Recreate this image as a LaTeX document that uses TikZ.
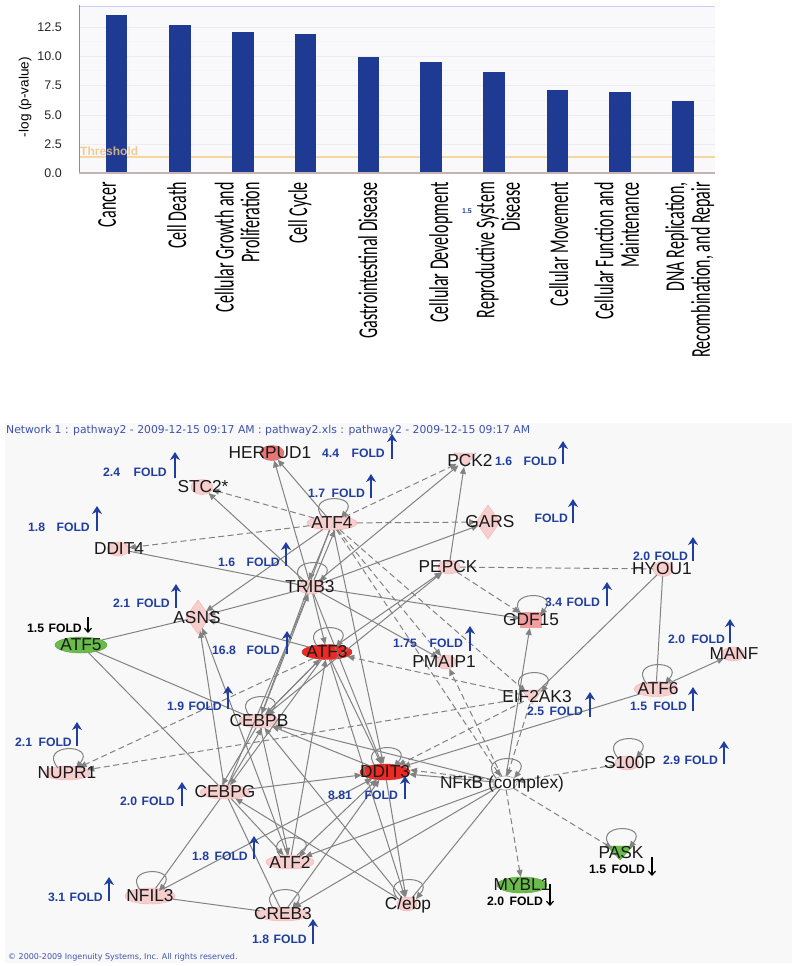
\documentclass[tikz,border=0pt]{standalone}
\usepackage{fontspec}
\usepackage{graphicx}
\setmainfont{Liberation Sans}
\newfontfamily\calfont{Carlito}
\newfontfamily\dvfont{DejaVu Sans}
\usetikzlibrary{shapes.geometric,arrows.meta}
\definecolor{barblue}{RGB}{31,58,147}
\definecolor{foldblue}{RGB}{32,62,160}
\definecolor{edgegray}{RGB}{130,130,130}
\definecolor{pinknode}{RGB}{247,206,206}
\definecolor{rednode}{RGB}{236,42,36}
\definecolor{midred}{RGB}{232,118,118}
\definecolor{gdfcol}{RGB}{242,158,158}
\definecolor{greennode}{RGB}{106,188,74}
\definecolor{panelbg}{RGB}{248,248,248}
\definecolor{chartbg}{RGB}{249,249,251}
\definecolor{titleblue}{RGB}{62,82,178}
\definecolor{gridc}{RGB}{236,236,242}
\definecolor{threshc}{RGB}{246,214,160}
\definecolor{threshtxt}{RGB}{238,196,130}
\newcommand\sloop[1]{\draw[ar] ([shift={(-9,-5)}]#1.center) .. controls ([shift={(-30,-30)}]#1.center) and ([shift={(30,-30)}]#1.center) .. ([shift={(9,-5)}]#1.center);}
\newcommand\downtri[4]{\fill[#4,draw=#4!80!black,line width=0.3pt] ([shift={(-#2,-#3)}]#1.center) -- ([shift={(#2,-#3)}]#1.center) -- ([shift={(0,#3)}]#1.center) -- cycle;}
\newcommand\foldlab[6]{\node[fold,text=#6,anchor=west] (#1n) at (#3,#5) {#2};\node[fold,text=#6,anchor=east] (#1f) at (#4,#5) {FOLD};}
\newcommand\uparr[3]{\draw[uparrow] (#1,#2) -- (#1,#3);}
\newcommand\dnarr[3]{\draw[dnarrow] (#1,#2) -- (#1,#3);}
\newcommand\catlab[3]{\node[cat] (#1) at (#2,182) {\scalebox{1}[1.7]{\calfont\fontsize{16}{13.4}\selectfont\begin{tabular}{@{}r@{}}#3\end{tabular}}};}
\begin{document}
\begin{tikzpicture}[x=1pt,y=-1pt,
  cat/.style={rotate=90, inner sep=0pt, anchor=east},
  tick/.style={font=\fontsize{12.5}{14}\selectfont, inner sep=0pt, anchor=east, text=black!85},
  nd/.style={inner sep=0pt, outer sep=0pt},
  pk/.style={nd, ellipse, fill=pinknode, draw=pinknode!85!red, line width=0.4pt},
  rd/.style={nd, ellipse, fill=rednode, draw=rednode!85!black, line width=0.4pt},
  gn/.style={nd, ellipse, fill=greennode, draw=greennode!85!black, line width=0.4pt},
  lab/.style={font=\fontsize{17.3}{19}\selectfont, inner sep=0pt, text=black!90},
  fold/.style={font=\bfseries\fontsize{12.2}{14}\selectfont, inner sep=0pt},
  ar/.style={draw=edgegray, line width=1pt, -{Triangle[length=7pt,width=6pt]}},
  pl/.style={draw=edgegray, line width=1pt},
  ds/.style={dash pattern=on 6pt off 3.5pt},
  uparrow/.style={draw=foldblue, line width=2.2pt, -{Stealth[length=8pt,width=10pt,inset=2.5pt]}},
  dnarrow/.style={draw=black, line width=1.2pt, -{Straight Barb[length=4pt,width=7pt,line width=1.2pt]}}
]
\useasboundingbox (0,0) rectangle (795,966);
\fill[white] (0,0) rectangle (795,966);

% ---------------- bar chart ----------------
\fill[chartbg] (79,7) rectangle (715,173);
\foreach \yy in {27,56,85,115,144} {\draw[gridc, line width=0.8pt] (79,\yy) -- (715,\yy);}
\foreach \yy in {41.5,70.5,100,129.5} {\draw[gridc!60, line width=0.6pt] (79,\yy) -- (715,\yy);}
\draw[black!15!blue!20, line width=1pt] (79,7) -- (715,7);
\draw[threshc, line width=1.2pt] (79,157) -- (715,157);
\fill[barblue] (106,15) rectangle (127,173);
\fill[barblue] (169,25) rectangle (191,173);
\fill[barblue] (232,32) rectangle (254,173);
\fill[barblue] (295,34) rectangle (316,173);
\fill[barblue] (358,57) rectangle (379,173);
\fill[barblue] (420,62) rectangle (442,173);
\fill[barblue] (483,72) rectangle (505,173);
\fill[barblue] (547,90) rectangle (568,173);
\fill[barblue] (609,92) rectangle (631,173);
\fill[barblue] (672,101) rectangle (694,173);
\node[anchor=west, inner sep=0pt, font=\bfseries\fontsize{12}{14}\selectfont, text=threshtxt, text opacity=0.85] (thr) at (80,151.5) {Threshold};
\draw[black!45, line width=1pt] (79,5) -- (79,174);
\draw[red!25!black!30, line width=1.2pt] (79,173) -- (715,173);
\node[tick] (t0) at (62,173) {0.0};
\node[tick] (t1) at (62,144) {2.5};
\node[tick] (t2) at (62,115) {5.0};
\node[tick] (t3) at (62,85) {7.5};
\node[tick] (t4) at (62,56) {10.0};
\node[tick] (t5) at (62,27) {12.5};
\node[rotate=90, inner sep=0pt, font=\fontsize{13.6}{15}\selectfont] (ylab) at (25,97) {-log (p-value)};

\catlab{c1}{110.5}{Cancer}
\catlab{c2}{180}{Cell Death}
\catlab{c3}{240.5}{Cellular Growth and\\Proliferation}
\catlab{c4}{301}{Cell Cycle}
\catlab{c5}{371}{Gastrointestinal Disease}
\catlab{c6}{442}{Cellular Development}
\catlab{c7}{501}{Reproductive System\\Disease}
\catlab{c8}{562}{Cellular Movement}
\catlab{c9}{620}{Cellular Function and\\Maintenance}
\catlab{c10}{691}{DNA Replication,\\Recombination, and Repair}
\node[inner sep=0pt, font=\bfseries\fontsize{7}{8}\selectfont, text=foldblue] (stray) at (467,211) {1.5};

% ---------------- network panel ----------------
\fill[panelbg] (5,423) rectangle (792,963);
\node[anchor=west, inner sep=0pt, font=\dvfont\fontsize{10.8}{12}\selectfont, text=titleblue] (title) at (6,431) {Network 1 : pathway2 - 2009-12-15 09:17 AM : pathway2.xls : pathway2 - 2009-12-15 09:17 AM};
\node[anchor=west, inner sep=0pt, font=\dvfont\fontsize{8}{9}\selectfont, text=titleblue] (foot) at (8,957) {\textcopyright{} 2000-2009 Ingenuity Systems, Inc. All rights reserved.};

% node shapes
\node[nd, ellipse, fill=midred, draw=midred!85!black, line width=0.4pt, minimum width=24, minimum height=15] (herpud) at (272,453) {};
\node[pk, minimum width=22, minimum height=15] (stc) at (202,487) {};
\node[pk, minimum width=50, minimum height=14] (atf4) at (332,523) {};
\node[pk, minimum width=22, minimum height=14] (ddit4) at (118,549) {};
\node[pk, minimum width=26, minimum height=14] (trib3) at (311,587) {};
\node[nd, ellipse, minimum width=20, minimum height=14] (pck2) at (465,460) {};
\downtri{pck2}{11}{7}{pinknode}
\node[nd, diamond, fill=pinknode, draw=pinknode!85!red, line width=0.4pt, minimum width=24, minimum height=34] (gars) at (488,522) {};
\node[pk, minimum width=22, minimum height=14] (pepck) at (449,567) {};
\node[pk, minimum width=20, minimum height=15] (hyou1) at (663,569) {};
\node[nd, diamond, fill=pinknode, draw=pinknode!85!red, line width=0.4pt, minimum width=24, minimum height=34] (asns) at (198,617) {};
\node[gn, minimum width=52, minimum height=16] (atf5) at (81,645) {};
\node[rd, minimum width=50, minimum height=15] (atf3) at (327,652) {};
\node[nd, rectangle, fill=gdfcol, minimum width=22, minimum height=16] (gdf15) at (531,620) {};
\node[pk, minimum width=20, minimum height=14] (pmaip1) at (446,662) {};
\node[nd, ellipse, minimum width=20, minimum height=14] (eif) at (532,697) {};
\downtri{eif}{10}{7}{pinknode}
\node[pk, minimum width=44, minimum height=15] (atf6) at (656,689) {};
\node[pk, minimum width=22, minimum height=14] (manf) at (733,654) {};
\node[pk, minimum width=40, minimum height=14] (cebpb) at (259,721) {};
\node[pk, minimum width=46, minimum height=14] (nupr1) at (67,773) {};
\node[rd, minimum width=50, minimum height=16] (ddit3) at (385,772) {};
\node[nd, ellipse, fill=white, draw=edgegray!70, line width=0.6pt, minimum width=24, minimum height=14] (nfkb) at (505,783) {};
\node[pk, minimum width=24, minimum height=14] (s100p) at (627,763) {};
\node[pk, minimum width=50, minimum height=14] (cebpg) at (225,792) {};
\node[pk, minimum width=48, minimum height=14] (atf2) at (290,862) {};
\node[nd, ellipse, minimum width=22, minimum height=14] (pask) at (620,853) {};
\downtri{pask}{13}{7}{greennode}
\node[pk, minimum width=50, minimum height=16] (nfil3) at (150,896) {};
\node[pk, minimum width=20, minimum height=14] (cebp) at (407,904) {};
\node[pk, minimum width=52, minimum height=14] (creb3) at (283,914) {};
\node[gn, minimum width=50, minimum height=16] (mybl1) at (522,885) {};

% solid edges with arrows
\draw[ar] (atf4) -- (herpud);
\draw[ar] (trib3) -- (herpud);
\draw[ar] (trib3) -- (stc);
\draw[ar] (trib3) -- (pck2);
\draw[ar] (pepck) -- (pck2);
\draw[ar] (trib3) -- (gars);
\draw[ar] (atf3) -- (pepck);
\draw[ar] (cebpb) -- (pepck);
\draw[ar] (trib3) -- (gdf15);
\draw[ar] (trib3) -- (pmaip1);
\draw[ar] (nfkb) -- (gdf15);
\draw[ar] (atf6) -- (manf);
\draw[ar] (atf6) -- (ddit3);
\draw[ar] (nfkb) -- (ddit3);
\draw[ar] (nfkb) -- (atf2);
\draw[ar] (nfkb) -- (creb3);
\draw[ar] (nfkb) -- (cebpb);
\draw[ar] (atf4) -- (asns);
\draw[ar] (trib3) -- (asns);
\draw[ar] (atf3) -- (asns);
\draw[ar] (cebpg) -- (asns);
\draw[ar] (atf2) -- (asns);
\draw[ar] (cebpb) -- (trib3);
\draw[ar] (cebpg) -- (trib3);
\draw[ar] (atf4) -- (cebpb);
\draw[ar] ([xshift=-2]atf4.south) -- ([xshift=-2]trib3.north);
\draw[ar] ([xshift=3]trib3.north) -- ([xshift=3]atf4.south);
\draw[ar] (trib3) -- (atf3);
\draw[ar] (atf4) -- (ddit3);
\draw[ar] (atf3) -- (ddit3);
\draw[ar] (trib3) -- (ddit3);
\draw[ar] (atf3) -- (cebpb);
\draw[ar] (cebpb) -- (atf3);
\draw[ar] (atf3) -- (cebpg);
\draw[ar] ([xshift=-3]cebpb.south) -- ([xshift=-3]cebpg.north);
\draw[ar] ([xshift=3]cebpg.north) -- ([xshift=3]cebpb.south);
\draw[ar] (cebpg) -- (ddit3);
\draw[ar] (cebpg) -- (atf2);
\draw[ar] (cebpb) -- (atf2);
\draw[ar] (ddit3) -- (cebpb);
\draw[ar] (cebp) -- (cebpg);
\draw[ar] (ddit3) -- (cebp);
\draw[ar] (atf3) -- (cebp);
\draw[ar] (cebp) -- (cebpb);
\draw[ar] (atf2) -- (ddit3);
\draw[ar] (creb3) -- (ddit3);
\draw[ar] (atf2) -- (atf3);
\draw[ar] (nfil3) -- (ddit3);
% plain solid edges
\draw[pl] (ddit4) -- (trib3);
\draw[pl] (atf5) -- (asns);
\draw[pl] (atf5) -- (cebpb);
\draw[pl] (atf5) -- (cebpg);
\draw[pl] (nfil3) -- (cebpg);
\draw[pl] (nfil3) -- (creb3);
\draw[pl] (cebpg) -- (creb3);
\draw[pl] (nfkb) -- (cebp);
\draw[pl] (hyou1) -- (eif);
\draw[pl] (hyou1) -- (atf6);
% dashed edges
\draw[ar,ds] (atf4) -- (stc);
\draw[ar,ds] (atf4) -- (ddit4);
\draw[ar,ds] (atf4) -- (pck2);
\draw[ar,ds] (atf4) -- (gars);
\draw[ar,ds] (atf4) -- (pmaip1);
\draw[ar,ds] (atf4) -- (eif);
\draw[ar,ds] (atf4) -- (nfkb);
\draw[ar,ds] (pepck) -- (gdf15);
\draw[pl,ds] (pepck) -- (hyou1);
\draw[ar,ds] (eif) -- (atf3);
\draw[ar,ds] (eif) -- (ddit3);
\draw[ar,ds] (eif) -- (nupr1);
\draw[ar,ds] (atf3) -- (nupr1);
\draw[ar,ds] (eif) -- (nfkb);
\draw[ar,ds] (nfkb) -- (pmaip1);
\draw[ar,ds] (s100p) -- (nfkb);
\draw[ar,ds] ([yshift=3]nfkb.west) -- ([yshift=2]ddit3.east);
\draw[ar,ds] (nfkb) -- (mybl1);
\draw[ar,ds] (nfkb) -- (pask);
% self loops
\sloop{atf4}
\sloop{trib3}
\sloop{atf3}
\sloop{cebpb}
\sloop{ddit3}
\sloop{nfkb}
\sloop{cebp}
\sloop{atf2}
\sloop{creb3}
\sloop{nfil3}
\sloop{nupr1}
\sloop{gdf15}
\sloop{eif}
\sloop{atf6}
\sloop{s100p}
\sloop{pask}

% node labels
\node[lab] (herpudT) at (270,453) {HERPUD1};
\node[lab] (stcT) at (203,487) {STC2*};
\node[lab] (atf4T) at (332,523) {ATF4};
\node[lab] (ddit4T) at (119,549) {DDIT4};
\node[lab] (trib3T) at (310,587) {TRIB3};
\node[lab] (pck2T) at (470,461) {PCK2};
\node[lab] (garsT) at (490,522) {GARS};
\node[lab] (pepckT) at (448,567) {PEPCK};
\node[lab] (hyou1T) at (662,569) {HYOU1};
\node[lab] (asnsT) at (197,618) {ASNS};
\node[lab] (atf5T) at (81,645) {ATF5};
\node[lab] (atf3T) at (327,652) {ATF3};
\node[lab] (gdf15T) at (531,620) {GDF15};
\node[lab] (pmaip1T) at (444,662) {PMAIP1};
\node[lab] (eifT) at (537,697) {EIF2AK3};
\node[lab] (atf6T) at (658,689) {ATF6};
\node[lab] (manfT) at (734,654) {MANF};
\node[lab] (cebpbT) at (259,721) {CEBPB};
\node[lab] (nupr1T) at (67,773) {NUPR1};
\node[lab] (ddit3T) at (385,772) {DDIT3};
\node[lab] (nfkbT) at (502,784) {NFkB (complex)};
\node[lab] (s100pT) at (630,763) {S100P};
\node[lab] (cebpgT) at (225,792) {CEBPG};
\node[lab] (atf2T) at (290,862) {ATF2};
\node[lab] (paskT) at (621,853) {PASK};
\node[lab] (nfil3T) at (150,896) {NFIL3};
\node[lab] (cebpT) at (408,905) {C/ebp};
\node[lab] (creb3T) at (283,914) {CREB3};
\node[lab] (mybl1T) at (522,885) {MYBL1};

% fold-change labels
\foldlab{fa}{2.4}{103}{167}{472}{foldblue} \uparr{175}{478}{452}
\foldlab{fb}{4.4}{322}{385}{453}{foldblue} \uparr{392}{459}{434}
\foldlab{fc}{1.7}{308}{365}{493}{foldblue} \uparr{371}{498}{474}
\foldlab{fd}{1.6}{495}{557}{461}{foldblue} \uparr{563}{464}{441}
\foldlab{fe}{}{533}{568}{518}{foldblue} \uparr{573}{523}{499}
\foldlab{ff}{1.8}{28}{90}{527}{foldblue} \uparr{97}{531}{506}
\foldlab{fg}{1.6}{218}{280}{562}{foldblue} \uparr{286}{566}{542}
\foldlab{fh}{2.0}{633}{688}{556}{foldblue} \uparr{693}{561}{537}
\foldlab{fi}{2.1}{113}{170}{603}{foldblue} \uparr{176}{608}{584}
\foldlab{fj}{3.4}{545}{600}{602}{foldblue} \uparr{607}{606}{582}
\foldlab{fk}{1.5}{27}{82}{628}{black} \dnarr{88}{617}{633}
\foldlab{fl}{16.8}{212}{280}{650}{foldblue} \uparr{287}{654}{631}
\foldlab{fm}{1.75}{393}{463}{643}{foldblue} \uparr{470}{651}{626}
\foldlab{fn}{2.0}{668}{725}{639}{foldblue} \uparr{730}{643}{619}
\foldlab{fo}{1.9}{167}{222}{706}{foldblue} \uparr{228}{709}{686}
\foldlab{fp}{2.5}{527}{583}{711}{foldblue} \uparr{590}{717}{692}
\foldlab{fq}{1.5}{630}{687}{706}{foldblue} \uparr{693}{711}{687}
\foldlab{fr}{2.1}{15}{72}{742}{foldblue} \uparr{77}{746}{722}
\foldlab{fs}{2.9}{663}{718}{760}{foldblue} \uparr{724}{764}{741}
\foldlab{ft}{2.0}{120}{175}{801}{foldblue} \uparr{182}{806}{782}
\foldlab{fu}{8.81}{328}{398}{795}{foldblue} \uparr{405}{799}{776}
\foldlab{fv}{1.8}{192}{248}{856}{foldblue} \uparr{254}{859}{836}
\foldlab{fw}{3.1}{48}{103}{897}{foldblue} \uparr{109}{901}{877}
\foldlab{fx}{1.8}{252}{307}{939}{foldblue} \uparr{313}{944}{919}
\foldlab{fy}{2.0}{487}{543}{901}{black} \dnarr{550}{884}{906}
\foldlab{fz}{1.5}{589}{645}{869}{black} \dnarr{652}{857}{876}
\end{tikzpicture}
\end{document}
